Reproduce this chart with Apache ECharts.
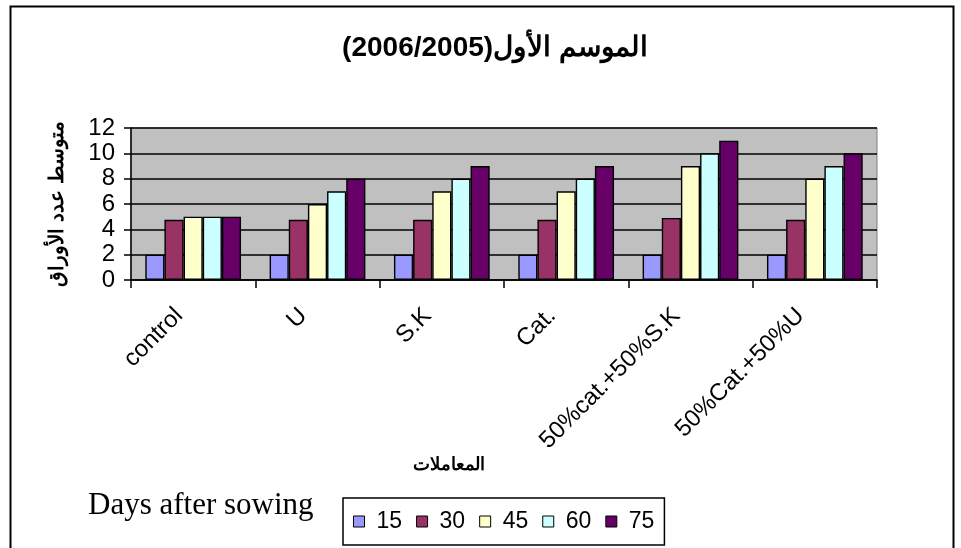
<!DOCTYPE html>
<html>
<head>
<meta charset="utf-8">
<script src="https://cdn.jsdelivr.net/npm/echarts@6/dist/echarts.min.js"></script>
<style>
  html, body { margin: 0; padding: 0; background: #fff; }
  #chart { width: 961px; height: 548px; }
</style>
</head>
<body>
<div id="chart"></div>
<script>
// treatments
var categories = ['control', 'U', 'S.K', 'Cat.', '50%cat.+50%S.K', '50%Cat.+50%U'];
// days after sowing
var seriesNames = ['15', '30', '45', '60', '75'];
var d15 = [2, 2, 2, 2, 2, 2];
var d30 = [4.75, 4.75, 4.75, 4.75, 4.9, 4.75];
var d45 = [5, 6, 7, 7, 9, 8];
var d60 = [5, 7, 8, 8, 10, 9];
var d75 = [5, 8, 9, 9, 11, 10];
var yTicks = [0, 2, 4, 6, 8, 10, 12];

var colors = ['#9999FF', '#993366', '#FFFFCC', '#CCFFFF', '#660066'];
var allData = [d15, d30, d45, d60, d75];

var chart = echarts.init(document.getElementById('chart'));

var series = seriesNames.map(function (name, i) {
	return {
		name: name,
		type: 'bar',
		data: allData[i],
		barGap: '0%',
		barCategoryGap: '23%',
		itemStyle: {
			color: colors[i],
			borderColor: '#000',
			borderWidth: 1.4
		}
	};
});

chart.setOption({
	animation: false,
	title: {
		text: 'الموسم الأول(2006/2005)',
		left: 490,
		textAlign: 'center',
		top: 29,
		textStyle: {
			fontFamily: 'Liberation Sans',
			fontSize: 28,
			fontWeight: 'bold',
			color: '#000'
		}
	},
	color: colors,
	legend: {
		data: seriesNames,
		left: 343,
		top: 498,
		itemWidth: 11,
		itemHeight: 11,
		itemGap: 14,
		icon: 'rect',
		padding: [12, 10, 12, 10],
		borderColor: '#000',
		borderWidth: 1.5,
		itemStyle: { borderColor: '#000', borderWidth: 1 },
		textStyle: {
			fontFamily: 'Liberation Sans',
			fontSize: 23,
			color: '#000',
			padding: [0, 0, 0, 7]
		}
	},
	grid: {
		left: 131,
		right: 84,
		top: 128,
		height: 152,
		show: true,
		backgroundColor: '#C0C0C0',
		borderColor: '#808080',
		borderWidth: 1
	},
	xAxis: {
		type: 'category',
		data: categories,
		name: 'المعاملات',
		nameLocation: 'middle',
		nameGap: 162,
		nameTextStyle: {
			fontFamily: 'Liberation Sans',
			fontSize: 18,
			fontWeight: 'bold',
			color: '#000',
			padding: [0, 0, 0, -110]
		},
		axisLine: { lineStyle: { color: '#000', width: 1.5 } },
		axisTick: { show: true, length: 8, lineStyle: { color: '#000', width: 1.5 } },
		axisLabel: {
			rotate: 45,
			interval: 0,
			margin: 18,
			padding: [0, 20, 0, 0],
			fontFamily: 'Liberation Sans',
			fontSize: 24,
			color: '#000'
		}
	},
	yAxis: {
		type: 'value',
		min: yTicks[0],
		max: yTicks[yTicks.length - 1],
		interval: 2,
		name: 'متوسط عدد الأوراق',
		nameLocation: 'middle',
		nameRotate: 90,
		nameGap: 64,
		nameTextStyle: {
			fontFamily: 'Liberation Sans',
			fontSize: 20,
			fontWeight: 'bold',
			color: '#000'
		},
		axisLine: { show: true, lineStyle: { color: '#000', width: 1.5 } },
		axisTick: { show: true, inside: false, length: 7, lineStyle: { color: '#000', width: 1.5 } },
		axisLabel: {
			margin: 16,
			fontFamily: 'Liberation Sans',
			fontSize: 24,
			color: '#000'
		},
		splitLine: { show: true, lineStyle: { color: '#000', width: 1.5 } }
	},
	graphic: [
		{
			type: 'rect',
			left: 8,
			top: 4,
			shape: { width: 943, height: 560 },
			style: { fill: 'none', stroke: '#000', lineWidth: 2 },
			silent: true
		},
		{
			type: 'text',
			left: 88,
			top: 490,
			style: {
				text: 'Days after sowing',
				font: '31px "Liberation Serif"',
				fill: '#000'
			}
		}
	],
	series: series
});
</script>
</body>
</html>
